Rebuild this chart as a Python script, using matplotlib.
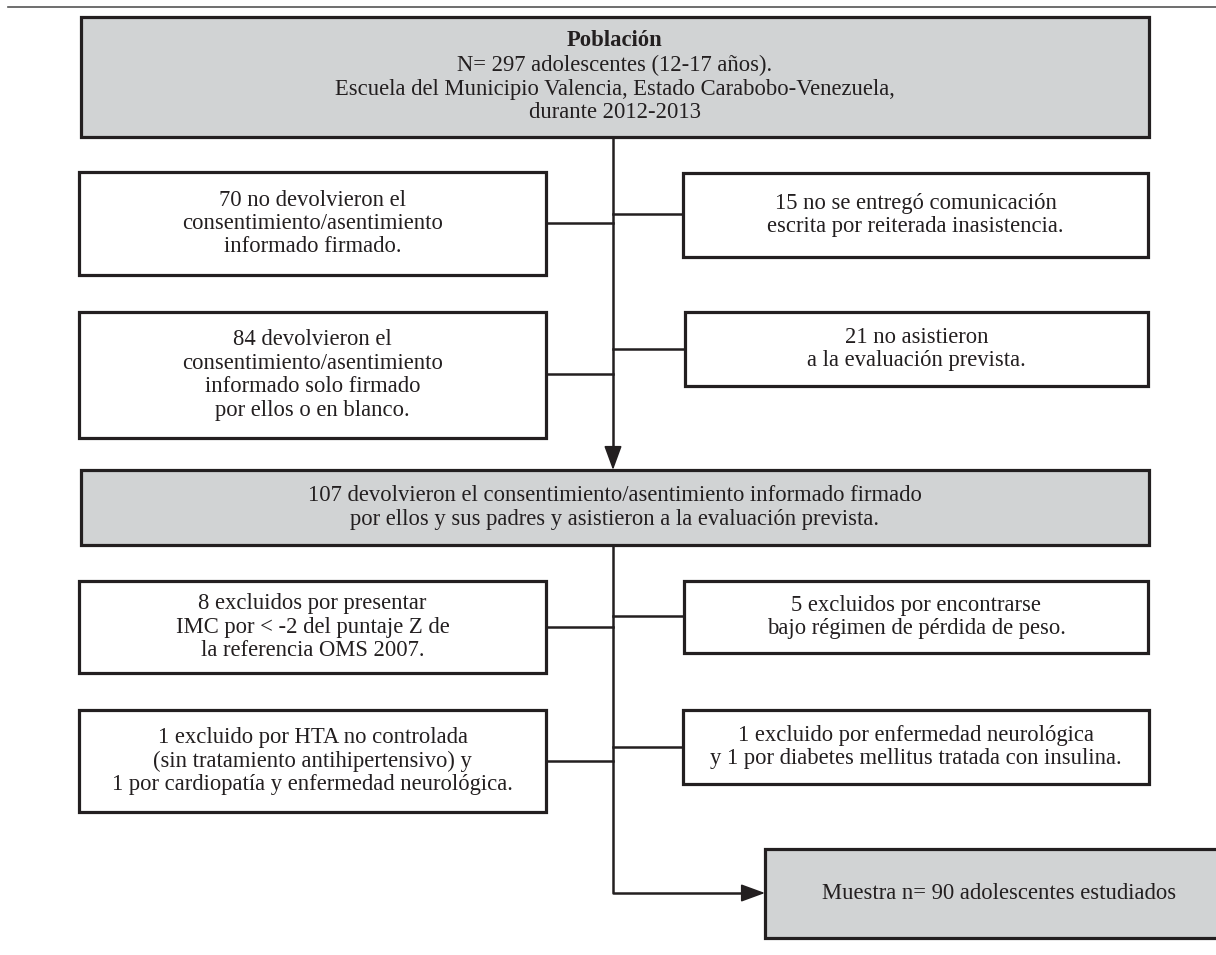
import matplotlib.pyplot as plt
from matplotlib.patches import Rectangle, FancyArrowPatch

plt.rcParams['font.family'] = ['Liberation Serif', 'DejaVu Serif']

# box texts
top_title = 'Población'
top_text = ('N= 297 adolescentes (12-17 años).\n'
            'Escuela del Municipio Valencia, Estado Carabobo-Venezuela,\n'
            'durante 2012-2013')
left_texts = ['70 no devolvieron el\nconsentimiento/asentimiento\ninformado firmado.',
              '84 devolvieron el\nconsentimiento/asentimiento\ninformado solo firmado\npor ellos o en blanco.',
              '8 excluidos por presentar\nIMC por < -2 del puntaje Z de\nla referencia OMS 2007.',
              '1 excluido por HTA no controlada\n(sin tratamiento antihipertensivo) y\n1 por cardiopatía y enfermedad neurológica.']
right_texts = ['15 no se entregó comunicación\nescrita por reiterada inasistencia.',
               '21 no asistieron\na la evaluación prevista.',
               '5 excluidos por encontrarse\nbajo régimen de pérdida de peso.',
               '1 excluido por enfermedad neurológica\ny 1 por diabetes mellitus tratada con insulina.']
mid_text = ('107 devolvieron el consentimiento/asentimiento informado firmado\n'
            'por ellos y sus padres y asistieron a la evaluación prevista.')
final_text = 'Muestra n= 90 adolescentes estudiados'

# layout (pixels, y down)
left_boxes = [(79, 172, 546, 275), (79, 312, 546, 438), (79, 581, 546, 673), (79, 710, 546, 812)]
left_conn_y = [223, 374, 627, 761]
right_boxes = [(683, 173, 1148, 257), (685, 312, 1148, 386), (684, 581, 1148, 653), (683, 710, 1149, 784)]
right_conn_y = [214, 349, 616, 747]
top_box = (81, 17, 1149, 137)
mid_box = (81, 470, 1149, 545)
final_box = (765, 849, 1228, 938)
xv = 613

ink = '#231f20'
gray = '#d1d3d4'
fs = 16.3
ls = 1.15

fig = plt.figure(figsize=(12.16, 9.55), dpi=100)
ax = fig.add_axes([0, 0, 1, 1])
ax.set_xlim(0, 1216)
ax.set_ylim(955, 0)
ax.axis('off')


def box(b, fill='white'):
    x0, y0, x1, y1 = b
    ax.add_patch(Rectangle((x0, y0), x1 - x0, y1 - y0, facecolor=fill,
                           edgecolor=ink, linewidth=2.3, joinstyle='miter', zorder=2))


def label(x, y, s, **kw):
    ax.text(x, y, s, ha='center', va='center', fontsize=fs, linespacing=ls,
            color=ink, zorder=3, **kw)


# top rule
ax.plot([8, 1216], [7, 7], color='#555555', linewidth=1.2)

# main vertical line and connectors
ax.plot([xv, xv], [137, 452], color=ink, linewidth=1.8, zorder=1)
ax.plot([xv, xv, 748], [545, 893, 893], color=ink, linewidth=1.8, zorder=1)
for b, yc in zip(left_boxes, left_conn_y):
    ax.plot([b[2], xv], [yc, yc], color=ink, linewidth=1.8, zorder=1)
for b, yc in zip(right_boxes, right_conn_y):
    ax.plot([xv, b[0]], [yc, yc], color=ink, linewidth=1.8, zorder=1)

ax.add_patch(FancyArrowPatch((xv, 448), (xv, 470), arrowstyle='-|>,head_length=15,head_width=5.5',
                             mutation_scale=1, color=ink, linewidth=1.2, zorder=4, shrinkA=0, shrinkB=0))
ax.add_patch(FancyArrowPatch((744, 893), (765, 893), arrowstyle='-|>,head_length=15,head_width=5.5',
                             mutation_scale=1, color=ink, linewidth=1.2, zorder=4, shrinkA=0, shrinkB=0))

# boxes
box(top_box, gray)
ax.text((top_box[0] + top_box[2]) / 2, 41, top_title, ha='center', va='center',
        fontsize=fs, fontweight='bold', color=ink, zorder=3)
label((top_box[0] + top_box[2]) / 2, 89, top_text)

for b, t in zip(left_boxes, left_texts):
    box(b)
    label((b[0] + b[2]) / 2, (b[1] + b[3]) / 2, t)
for b, t in zip(right_boxes, right_texts):
    box(b)
    label((b[0] + b[2]) / 2, (b[1] + b[3]) / 2, t)

box(mid_box, gray)
label((mid_box[0] + mid_box[2]) / 2, (mid_box[1] + mid_box[3]) / 2, mid_text)

box(final_box, gray)
label(999, (final_box[1] + final_box[3]) / 2, final_text)

fig.savefig('out.png', dpi=100)
